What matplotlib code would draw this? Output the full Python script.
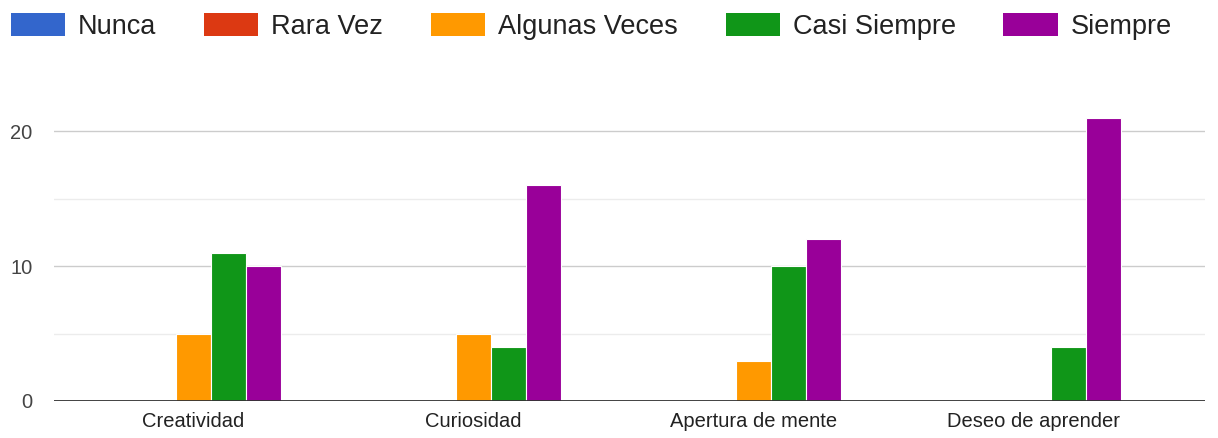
import matplotlib.pyplot as plt
import numpy as np

plt.rcParams['font.family'] = ['Liberation Sans', 'DejaVu Sans']

categories = ['Creatividad', 'Curiosidad', 'Apertura de mente', 'Deseo de aprender']
series = ['Nunca', 'Rara Vez', 'Algunas Veces', 'Casi Siempre', 'Siempre']
nunca = [0, 0, 0, 0]
rara_vez = [0, 0, 0, 0]
algunas_veces = [5, 5, 3, 0]
casi_siempre = [11, 4, 10, 4]
siempre = [10, 16, 12, 21]
values = [nunca, rara_vez, algunas_veces, casi_siempre, siempre]
colors = ['#3366CC', '#DC3912', '#FF9900', '#109618', '#990099']

fig = plt.figure(figsize=(12.18, 4.38), dpi=100)
ax = fig.add_axes([53.5 / 1218, 37 / 438, (1205 - 53.5) / 1218, 305 / 438])

x = np.arange(len(categories))
w = 0.125
handles = []
for i, (name, vals, c) in enumerate(zip(series, values, colors)):
    b = ax.bar(x + (i - 2) * w, vals, width=w, color=c, edgecolor='white',
               linewidth=0.8, label=name, zorder=3)
    # zero-height bars show as a faint line on the baseline
    for rect, v in zip(b, vals):
        if v == 0:
            rect.set_edgecolor(c)
            rect.set_alpha(0.35)
    handles.append(plt.Rectangle((0, 0), 1, 1, facecolor=c, edgecolor='none'))

ax.set_xlim(-0.5, 3.5 + (1205 - 1173.5) / 280)
ax.set_ylim(0, 22.6)

for y in [5, 15]:
    ax.axhline(y, color='#ececec', lw=1, zorder=1)
for y in [10, 20]:
    ax.axhline(y, color='#cccccc', lw=1, zorder=1)
ax.axhline(0, color='#333333', lw=1.3, zorder=4)

ax.set_yticks([0, 10, 20])
ax.set_xticks(x)
ax.set_xticklabels(categories)
ax.tick_params(axis='y', length=0, pad=15, labelsize=14.5, labelcolor='#444444')
ax.tick_params(axis='x', length=0, pad=8, labelsize=14.5, labelcolor='#222222')
for s in ax.spines.values():
    s.set_visible(False)

fig.legend(handles, series, loc='upper left', bbox_to_anchor=(11 / 1218, 1 - 13 / 438), ncol=5,
           frameon=False, fontsize=19.5, handlelength=2.0, handleheight=0.92,
           handletextpad=0.48, columnspacing=1.76, labelcolor='#222222',
           borderaxespad=0, borderpad=0)

fig.savefig('out.png', dpi=100)
